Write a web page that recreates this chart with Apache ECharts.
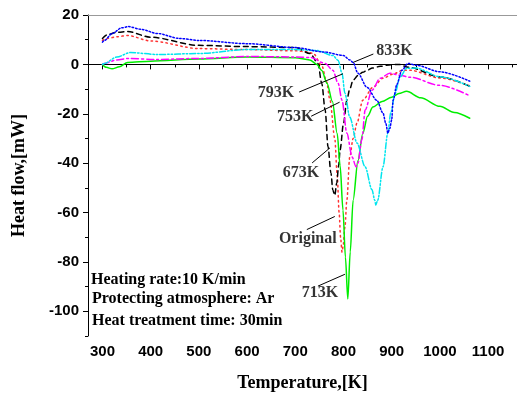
<!DOCTYPE html>
<html>
<head>
<meta charset="utf-8">
<script src="https://cdn.jsdelivr.net/npm/echarts@6/dist/echarts.min.js"></script>
<style>
  html, body { margin: 0; padding: 0; background: #fff; }
  #chart { width: 517px; height: 397px; }
</style>
</head>
<body>
<div id="chart"></div>
<script>
// temperature (K) and heat flow (mW) for each sample
const tOriginal = [300, 310, 330, 352, 400, 500, 600, 700, 720, 737, 755, 765, 772, 782, 787, 791, 794, 797, 799, 803, 807, 813, 820, 828, 840, 861, 882, 902, 923, 938, 1000, 1062];
const hOriginal = [9.7, 10.5, 11.2, 11.7, 9.5, 6.4, 6, 5.5, 5.2, 4.5, -0.4, -7, -14.5, -30, -45, -60, -70, -76, -74, -66, -55, -37.5, -30, -23.8, -14.5, -9.3, -5.6, -4, -2.4, -2.4, -5.5, -8.7];

const t673 = [300, 310, 330, 352, 400, 500, 600, 700, 731, 747, 755, 762, 768, 774, 778, 782, 786, 790, 793, 800, 807, 813, 820, 830, 840, 849, 860, 876, 895, 915, 935, 1000, 1062];
const h673 = [10.5, 12, 13, 13.3, 11, 7.7, 7.2, 6.8, 4.4, 0.4, -7.7, -18.5, -33.4, -44, -51, -53, -48, -41, -34.6, -24, -14.5, -10, -6.4, -4.5, -3.2, -2.4, -1.5, -0.8, -0.2, 0, -1.2, -5, -8.9];

const t713 = [300, 308, 320, 335, 352, 400, 500, 600, 700, 730, 745, 755, 766, 777, 787, 793, 799, 804, 809, 814, 820, 830, 840, 850, 861, 880, 900, 915, 931, 960, 1000, 1030, 1062];
const h713 = [0, -1.2, -1.8, -1, 0.8, 1.3, 2.2, 3, 2.7, 1.8, 0, -2.5, -7.7, -15, -28, -41, -59, -78, -95, -76, -55, -39, -28, -21, -17.3, -15, -13.3, -11.8, -10.9, -13.5, -17, -19.5, -21.8];

const t753 = [300, 304, 330, 352, 414, 500, 600, 700, 731, 762, 778, 789, 797, 807, 818, 826, 830, 838, 845, 859, 876, 896, 917, 938, 1000, 1062];
const h753 = [0, 0.4, 1.8, 2.4, 2, 2.4, 3.2, 3, 2.8, 0.4, -2.4, -7.7, -14.5, -27.8, -37.5, -41.5, -40, -30.6, -18.5, -10.5, -5.6, -3.6, -4.4, -5.2, -8.5, -12.7];

const t793 = [300, 304, 330, 358, 414, 500, 600, 700, 745, 778, 789, 797, 803, 813, 828, 845, 859, 865, 867, 871, 882, 892, 898, 907, 917, 931, 950, 1000, 1062];
const h793 = [0, 0.4, 3, 4.8, 4, 4.4, 6, 6, 5.6, 3.6, 1.6, -3.6, -11.7, -21.3, -31.8, -41.5, -50.7, -55, -57, -55, -41.5, -27.8, -19.7, -11.7, -5.2, -1.6, -1.5, -5, -8.9];

const t833 = [300, 304, 320, 340, 354, 380, 414, 460, 500, 600, 700, 760, 800, 813, 820, 830, 849, 869, 882, 888, 892, 896, 900, 903, 911, 921, 934, 952, 1000, 1062];
const h833 = [9, 9.7, 12.5, 14.8, 15.3, 14.2, 12.5, 10.5, 9.7, 8.4, 6.8, 5, 3.6, 1.8, 0.8, -3.6, -9.3, -14.5, -19.7, -24, -27.8, -26, -22.5, -14.5, -8, -2.4, 0.4, -0.4, -3, -6.8];

// annotation text and leader lines
const noteText = ['833K', '793K', '753K', '673K', 'Original', '713K'];
const notePos = [[906, 5.6], [660, -11.7], [700, -21.3], [712, -43.9], [726, -70.5], [751, -92.6]];
const noteLines = [
  [[862, 4.2], [820, 0.8]],
  [[708, -11.2], [799, -3.8]],
  [[733, -21], [792, -15.3]],
  [[735, -39.9], [772, -33.8]],
  [[724, -66.9], [782, -61.6]],
  [[747, -89.8], [803, -85]]
];

const xMajor = [300, 400, 500, 600, 700, 800, 900, 1000, 1100];
const xMinor = [350, 450, 550, 650, 750, 850, 950, 1050, 1150];
const yMajor = [-100, -80, -60, -40, -20, 0, 20];
const yMinor = [-110, -90, -70, -50, -30, -10, 10];

const pairs = (t, h) => t.map((v, i) => [v, h[i]]);

const serif = '"Liberation Serif", "Times New Roman", serif';
const sans = '"Liberation Sans", Arial, sans-serif';

const chart = echarts.init(document.getElementById('chart'));

const curve = (name, t, h, color, type) => ({
  name,
  type: 'line',
  data: pairs(t, h),
  showSymbol: false,
  smooth: 0.3,
  smoothMonotone: 'x',
  lineStyle: { color, width: 1.5, type, cap: 'round' },
  z: 3
});

const option = {
  animation: false,
  grid: { left: 88, right: 0, top: 15, bottom: 59 },
  xAxis: [
    {
      type: 'value',
      min: 270,
      max: 1160,
      name: 'Temperature,[K]',
      nameLocation: 'middle',
      nameGap: 38,
      nameTextStyle: { fontFamily: serif, fontWeight: 'bold', fontSize: 18, color: '#000' },
      splitLine: { show: false },
      axisLine: { lineStyle: { color: '#000', width: 1 } },
      axisTick: { length: 5, inside: false, customValues: xMajor, lineStyle: { color: '#000' } },
      axisLabel: {
        customValues: xMajor,
        formatter: v => String(v),
        margin: 8,
        fontFamily: sans,
        fontWeight: 'bold',
        fontSize: 15,
        color: '#000'
      }
    },
    {
      type: 'value',
      min: 270,
      max: 1160,
      position: 'bottom',
      splitLine: { show: false },
      axisLine: { show: false },
      axisTick: { length: 3, customValues: xMinor, lineStyle: { color: '#000' } },
      axisLabel: { show: false }
    },
    {
      type: 'value',
      min: 270,
      max: 1160,
      position: 'top',
      splitLine: { show: false },
      axisLine: { lineStyle: { color: '#999', width: 1 } },
      axisTick: { show: false },
      axisLabel: { show: false }
    }
  ],
  yAxis: [
    {
      type: 'value',
      min: -110,
      max: 20,
      name: 'Heat flow,[mW]',
      nameLocation: 'middle',
      nameGap: 60,
      nameTextStyle: { fontFamily: serif, fontWeight: 'bold', fontSize: 18, color: '#000' },
      splitLine: { show: false },
      axisLine: { show: true, lineStyle: { color: '#000', width: 1 } },
      axisTick: { show: true, length: 5, customValues: yMajor, lineStyle: { color: '#000' } },
      axisLabel: { customValues: yMajor, margin: 9, fontFamily: sans, fontWeight: 'bold', fontSize: 15, color: '#000' }
    },
    {
      type: 'value',
      min: -110,
      max: 20,
      position: 'left',
      splitLine: { show: false },
      axisLine: { show: false },
      axisTick: { show: true, length: 3, customValues: yMinor, lineStyle: { color: '#000' } },
      axisLabel: { show: false }
    }
  ],
  series: [
    curve('Original', tOriginal, hOriginal, '#ff3333', [1.5, 3.5]),
    curve('673K', t673, h673, '#000000', [5, 4]),
    curve('713K', t713, h713, '#00ee00', 'solid'),
    curve('753K', t753, h753, '#ff00ff', [7, 3, 2, 3]),
    curve('793K', t793, h793, '#00e5ee', [6, 2, 1.5, 2, 1.5, 2]),
    curve('833K', t833, h833, '#0000ff', [1.5, 2]),
    {
      name: 'notes',
      type: 'scatter',
      data: notePos.map((p, i) => [p[0], p[1], noteText[i]]),
      symbolSize: 0,
      label: {
        show: true,
        position: 'inside',
        formatter: p => p.value[2],
        fontFamily: serif,
        fontWeight: 'bold',
        fontSize: 16,
        color: '#000'
      },
      markLine: {
        silent: true,
        symbol: 'none',
        label: { show: false },
        lineStyle: { color: '#000', width: 1, type: 'solid' },
        data: noteLines.map(l => [{ coord: l[0] }, { coord: l[1] }])
      },
      z: 4
    }
  ],
  graphic: [
    {
      type: 'group',
      left: 91,
      top: 272,
      children: [
        { type: 'text', left: 0, top: 0, style: { text: 'Heating rate:10 K/min', font: 'bold 16px ' + serif, fill: '#000' } },
        { type: 'text', left: 1, top: 19, style: { text: 'Protecting atmosphere: Ar', font: 'bold 16px ' + serif, fill: '#000' } },
        { type: 'text', left: 1, top: 41, style: { text: 'Heat treatment time: 30min', font: 'bold 16px ' + serif, fill: '#000' } }
      ]
    }
  ]
};

chart.setOption(option);
</script>
</body>
</html>
